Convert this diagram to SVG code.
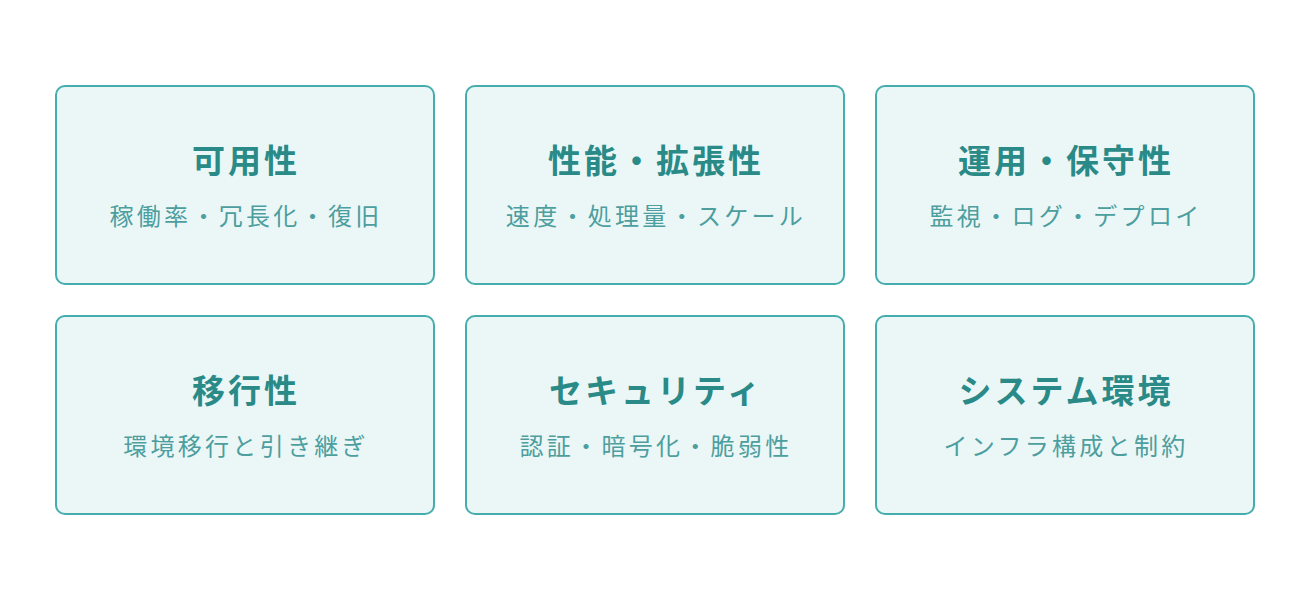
<svg xmlns="http://www.w3.org/2000/svg" width="1310" height="600" viewBox="0 0 1310 600">
<style>
.box{fill:#ebf7f7;stroke:#45adae;stroke-width:2}
.t{font-family:"Noto Sans CJK JP","Noto Sans",sans-serif;font-weight:700;font-size:33px;fill:#2a8a87;text-anchor:middle;letter-spacing:3px}
.s{font-family:"Noto Sans CJK JP","Noto Sans",sans-serif;font-size:24px;fill:#4d9e9e;text-anchor:middle;letter-spacing:3.3px}
</style>
<rect width="1310" height="600" fill="#ffffff"/>
<g id="node-availability"><rect class="box" x="56" y="86" width="378" height="198" rx="9"/><text class="t" x="246" y="173">可用性</text><text class="s" x="246" y="225">稼働率・冗長化・復旧</text></g>
<g id="node-performance"><rect class="box" x="466" y="86" width="378" height="198" rx="9"/><text class="t" x="656" y="173">性能・拡張性</text><text class="s" x="656" y="225">速度・処理量・スケール</text></g>
<g id="node-operation"><rect class="box" x="876" y="86" width="378" height="198" rx="9"/><text class="t" x="1066" y="173">運用・保守性</text><text class="s" x="1066" y="225">監視・ログ・デプロイ</text></g>
<g id="node-migration"><rect class="box" x="56" y="316" width="378" height="198" rx="9"/><text class="t" x="246" y="403">移行性</text><text class="s" x="246" y="455">環境移行と引き継ぎ</text></g>
<g id="node-security"><rect class="box" x="466" y="316" width="378" height="198" rx="9"/><text class="t" x="656" y="403">セキュリティ</text><text class="s" x="656" y="455">認証・暗号化・脆弱性</text></g>
<g id="node-system"><rect class="box" x="876" y="316" width="378" height="198" rx="9"/><text class="t" x="1066" y="403">システム環境</text><text class="s" x="1066" y="455">インフラ構成と制約</text></g>
<g id="connectors"></g>
</svg>
